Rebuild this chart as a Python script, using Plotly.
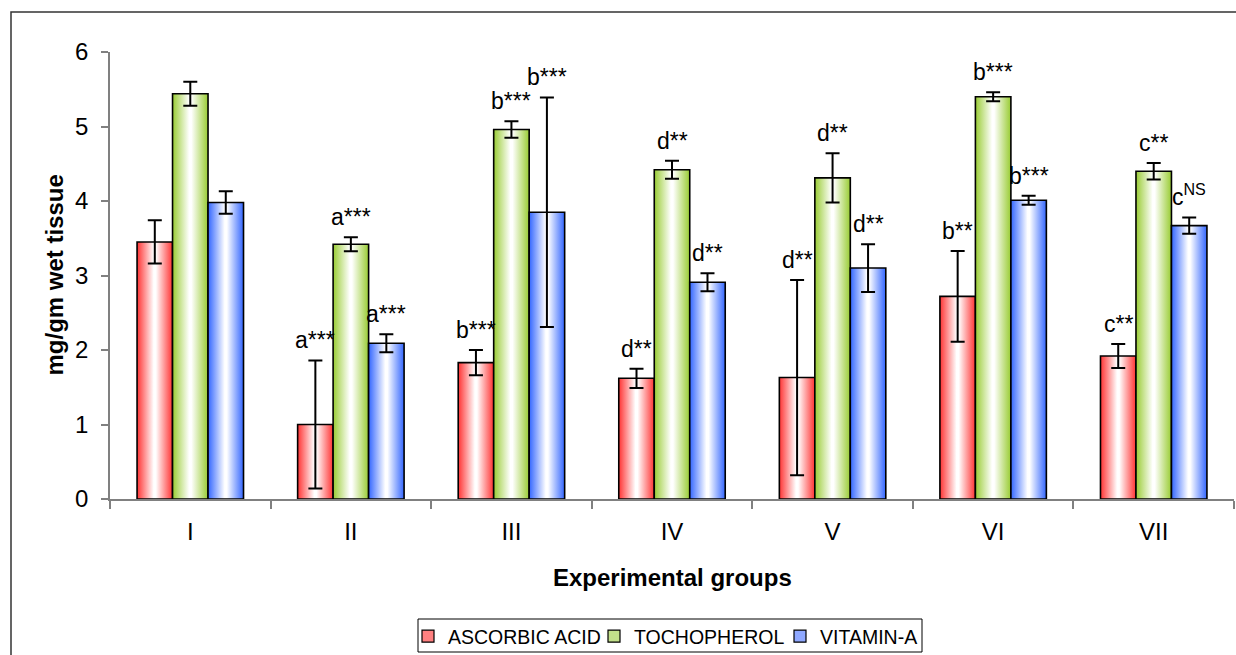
import plotly.graph_objects as go

# ---------------- data ----------------
groups = ["I", "II", "III", "IV", "V", "VI", "VII"]
series_names = ["ASCORBIC ACID", "TOCHOPHEROL", "VITAMIN-A"]

ascorbic = [3.45, 1.00, 1.83, 1.62, 1.63, 2.72, 1.92]
ascorbic_err = [0.29, 0.86, 0.17, 0.13, 1.31, 0.61, 0.16]
tocopherol = [5.44, 3.42, 4.96, 4.42, 4.31, 5.40, 4.40]
tocopherol_err = [0.16, 0.095, 0.11, 0.12, 0.33, 0.06, 0.11]
vitamin_a = [3.98, 2.09, 3.85, 2.91, 3.10, 4.01, 3.67]
vitamin_a_err = [0.15, 0.12, 1.54, 0.12, 0.32, 0.06, 0.11]

ascorbic_labels = ["", "a***", "b***", "d**", "d**", "b**", "c**"]
tocopherol_labels = ["", "a***", "b***", "d**", "d**", "b***", "c**"]
vitamin_a_labels = ["", "a***", "b***", "d**", "d**", "b***", "c<sup>NS</sup>"]

y_ticks = [0, 1, 2, 3, 4, 5, 6]

# ---------------- style ----------------
values = [ascorbic, tocopherol, vitamin_a]
errors = [ascorbic_err, tocopherol_err, vitamin_a_err]
labels = [ascorbic_labels, tocopherol_labels, vitamin_a_labels]
edge_colors = ["#FF3333", "#99CC33", "#3366FF"]
legend_colors = ["#FF8080", "#C2E08A", "#8FA8FF"]
FONT = "Arial, Liberation Sans, sans-serif"

W, H = 1236, 655
ML, MR, MT, MB = 110, 2, 52, 156
PW, PH = W - ML - MR, H - MT - MB
BAR_W = 0.221

# legend layout (page pixels)
LEG_BOX = (418, 922, 619, 652)          # left, right, top, bottom of legend frame
LEG_ITEM_X = [408, 594, 780]            # left edge of each legend entry
LEG_ITEM_Y = 617


def px_x(px):
    return (px - ML) / PW


def px_y(py):
    return ((H - MB) - py) / PH


legend_ids = ["legend", "legend2", "legend3"]

fig = go.Figure()

for s, name in enumerate(series_names):
    off = (s - 1) * BAR_W
    scale = [[0, edge_colors[s]], [0.47, "#FFFFFF"], [0.53, "#FFFFFF"], [1, edge_colors[s]]]
    for i, v in enumerate(values[s]):
        xc = i + off
        x0, x1 = xc - BAR_W / 2, xc + BAR_W / 2
        fig.add_trace(go.Scatter(
            x=[x0, x1, x1, x0, x0], y=[0, 0, v, v, 0],
            mode="lines", fill="toself",
            fillgradient=dict(type="horizontal", colorscale=scale),
            line=dict(color="black", width=1.6),
            showlegend=False, hoverinfo="skip",
        ))
    # error bars
    fig.add_trace(go.Scatter(
        x=[i + off for i in range(len(groups))], y=values[s],
        mode="markers", marker=dict(size=1, color="rgba(0,0,0,0)"),
        error_y=dict(type="data", array=errors[s], visible=True,
                     color="black", thickness=2, width=7),
        showlegend=False, hoverinfo="skip",
    ))
    # legend proxy
    fig.add_trace(go.Bar(
        x=[None], y=[None], name=name, legend=legend_ids[s],
        marker=dict(color=legend_colors[s], line=dict(color="black", width=1.2)),
    ))
    # significance labels
    for i, txt in enumerate(labels[s]):
        if txt:
            fig.add_annotation(
                x=i + off, y=values[s][i] + errors[s][i], text=txt,
                showarrow=False, xanchor="center", yanchor="bottom", yshift=5,
                font=dict(family=FONT, size=23, color="black"),
            )

# y axis title
fig.add_annotation(
    x=px_x(54), y=0.5, xref="paper", yref="paper",
    text="<b>mg/gm wet tissue</b>", textangle=-90, showarrow=False,
    xanchor="center", yanchor="middle",
    font=dict(family=FONT, size=24, color="black"),
)
# x axis title
fig.add_annotation(
    x=0.5, y=px_y(577), xref="paper", yref="paper",
    text="<b>Experimental groups</b>", showarrow=False,
    xanchor="center", yanchor="middle",
    font=dict(family=FONT, size=24, color="black"),
)

# outer frame
fig.add_shape(
    type="rect", xref="paper", yref="paper",
    x0=px_x(11), x1=px_x(W + 5), y0=px_y(H + 5), y1=px_y(12),
    line=dict(color="#333333", width=1.5), fillcolor="rgba(0,0,0,0)",
)
# legend frame
fig.add_shape(
    type="rect", xref="paper", yref="paper",
    x0=px_x(LEG_BOX[0]), x1=px_x(LEG_BOX[1]),
    y0=px_y(LEG_BOX[3]), y1=px_y(LEG_BOX[2]),
    line=dict(color="black", width=1), fillcolor="rgba(0,0,0,0)",
)

legend_common = dict(
    orientation="h", xanchor="left", yanchor="top",
    bgcolor="rgba(0,0,0,0)", borderwidth=0,
    font=dict(family=FONT, size=19.5, color="black"),
    itemwidth=30,
)
legend_layout = {
    lid: dict(legend_common, x=px_x(LEG_ITEM_X[k]), y=px_y(LEG_ITEM_Y))
    for k, lid in enumerate(legend_ids)
}

fig.update_layout(
    width=W, height=H,
    margin=dict(l=ML, r=MR, t=MT, b=MB, autoexpand=False),
    paper_bgcolor="white", plot_bgcolor="white",
    font=dict(family=FONT, size=24, color="black"),
    barmode="overlay",
    showlegend=True,
    xaxis=dict(
        range=[-0.5, len(groups) - 0.5],
        tickmode="array", tickvals=list(range(len(groups))), ticktext=groups,
        ticks="", showgrid=False, zeroline=False,
        showline=True, linecolor="#808080", linewidth=1.5,
        ticklabelstandoff=10, automargin=False,
        minor=dict(ticks="outside", ticklen=8, tick0=-0.5, dtick=1,
                   tickcolor="#808080", tickwidth=1.5, showgrid=False),
        tickfont=dict(family=FONT, size=24),
        fixedrange=True,
    ),
    yaxis=dict(
        range=[0, 6], tickmode="array", tickvals=y_ticks,
        ticks="outside", ticklen=7, tickcolor="#808080", tickwidth=1.5,
        showgrid=False, zeroline=False,
        showline=True, linecolor="#808080", linewidth=1.5,
        ticklabelstandoff=8, automargin=False,
        tickfont=dict(family=FONT, size=24),
        fixedrange=True,
    ),
    **legend_layout,
)

fig.write_html(
    "out.html",
    config={"displayModeBar": False},
    post_script="document.body.style.margin='0';document.body.style.overflow='hidden';",
)
